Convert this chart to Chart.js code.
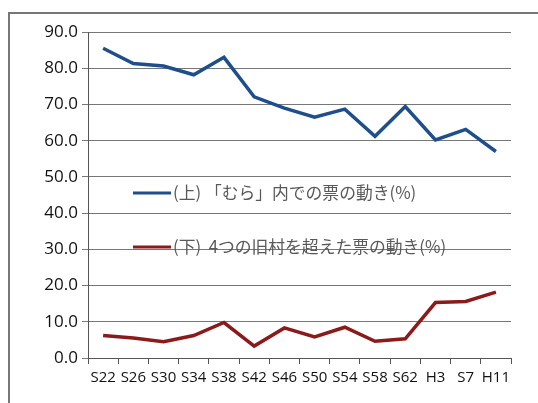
<!DOCTYPE html>
<html>
<head>
<meta charset="utf-8">
<script src="https://cdn.jsdelivr.net/npm/chart.js@4.4.0/dist/chart.umd.min.js"></script>
<style>
  html, body { margin: 0; padding: 0; background: #fff; overflow: hidden; }
  #wrap { position: relative; width: 538px; height: 403px; }
  #frame { position: absolute; left: 8px; top: 12px; width: 600px; height: 500px; border: 2px solid #777; box-sizing: border-box; }
  canvas { position: absolute; left: 0; top: 0; }
</style>
</head>
<body>
<div id="wrap">
  <div id="frame"></div>
  <canvas id="chart" width="538" height="403"></canvas>
</div>
<script>
// --- data ---
const categories = ["S22", "S26", "S30", "S34", "S38", "S42", "S46", "S50", "S54", "S58", "S62", "H3", "S7", "H11"];
const upperLabel = "(上) 「むら」内での票の動き(%)";
const upperValues = [85.5, 81.3, 80.6, 78.2, 83.0, 72.1, 69.0, 66.5, 68.7, 61.2, 69.4, 60.2, 63.1, 57.0];
const lowerLabel = "(下)  4つの旧村を超えた票の動き(%)";
const lowerValues = [6.2, 5.5, 4.5, 6.2, 9.8, 3.3, 8.3, 5.8, 8.5, 4.6, 5.3, 15.3, 15.6, 18.2];
const yTicks = [0, 10, 20, 30, 40, 50, 60, 70, 80, 90];

// legend sits inside the plot, drawn by hand
const insideLegend = {
  id: 'insideLegend',
  afterDatasetsDraw(chart) {
    const ctx = chart.ctx;
    const spots = [193, 247];
    chart.data.datasets.forEach((ds, i) => {
      const y = spots[i];
      ctx.save();
      ctx.strokeStyle = ds.borderColor;
      ctx.lineWidth = 3;
      ctx.beginPath();
      ctx.moveTo(133, y);
      ctx.lineTo(171, y);
      ctx.stroke();
      ctx.fillStyle = '#595959';
      ctx.font = '16.8px "Noto Sans CJK JP"';
      ctx.textBaseline = 'middle';
      ctx.fillText(ds.label, 173, y);
      ctx.restore();
    });
  }
};

const ctx = document.getElementById('chart').getContext('2d');
new Chart(ctx, {
  type: 'line',
  data: {
    labels: categories,
    datasets: [{
      label: upperLabel,
      data: upperValues,
      borderColor: '#1f4e8c',
      borderWidth: 3.5,
      pointRadius: 0,
      tension: 0
    }, {
      label: lowerLabel,
      data: lowerValues,
      borderColor: '#8b1a1a',
      borderWidth: 3.5,
      pointRadius: 0,
      tension: 0
    }]
  },
  options: {
    responsive: false,
    animation: false,
    layout: { padding: { top: 32, right: 27, bottom: 0, left: 0 } },
    plugins: { legend: { display: false }, tooltip: { enabled: false } },
    scales: {
      x: {
        offset: true,
        grid: { offset: true, drawOnChartArea: false, tickLength: 6, color: '#555' },
        border: { color: '#555', width: 1 },
        ticks: { color: '#111', font: { family: 'Open Sans', size: 15 }, maxRotation: 0, autoSkip: false, padding: 5 },
        afterFit: s => { s.height = 45; }
      },
      y: {
        min: 0,
        max: 90,
        afterBuildTicks: s => { s.ticks = yTicks.map(v => ({ value: v })); },
        grid: { color: '#777', tickLength: 6 },
        border: { color: '#555', width: 1 },
        ticks: { color: '#111', font: { family: 'Open Sans', size: 17 }, padding: 4, callback: v => v.toFixed(1) },
        afterFit: s => { s.width = 88; }
      }
    }
  },
  plugins: [insideLegend]
});
</script>
</body>
</html>
